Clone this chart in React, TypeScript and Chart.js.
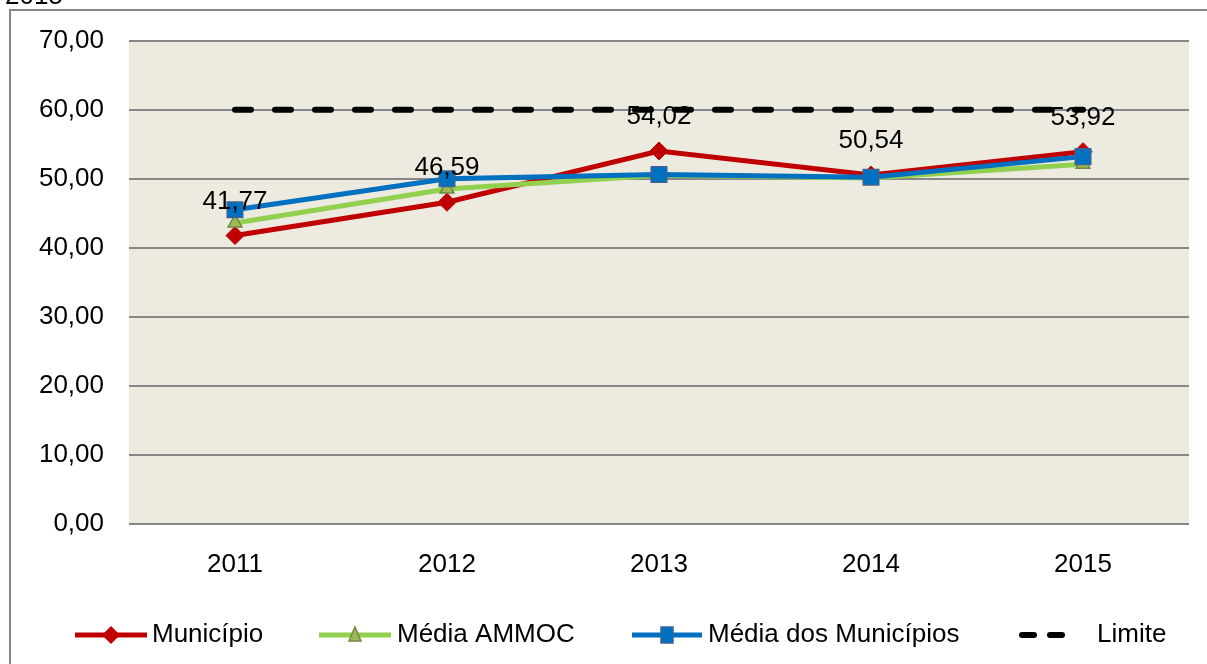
import React, { useEffect, useRef } from 'react';
import { Chart, registerables } from 'chart.js';

Chart.register(...registerables);

const years = ['2011', '2012', '2013', '2014', '2015'];
const municipio = [41.77, 46.59, 54.02, 50.54, 53.92];
const mediaAmmoc = [43.6, 48.5, 50.5, 50.1, 52.1];
const mediaMunicipios = [45.5, 50.0, 50.6, 50.2, 53.2];
const limite = [60, 60, 60, 60, 60];
const titleText = '2015';
const legendLabels = ['Município', 'Média AMMOC', 'Média dos Municípios', 'Limite'];

const FONT = '"Liberation Sans", Arial, sans-serif';
const fmt = (v: number) => v.toFixed(2).replace('.', ',');

const RED = '#C00000';
const GREEN = '#92D050';
const BLUE = '#0070C0';

const decorPlugin = {
  id: 'decor',
  beforeDraw(chart: any) {
    const { ctx, chartArea } = chart;
    ctx.save();
    ctx.fillStyle = '#ffffff';
    ctx.fillRect(0, 0, chart.width, chart.height);
    // outer border
    ctx.strokeStyle = '#878787';
    ctx.lineWidth = 2;
    ctx.strokeRect(10, 10, chart.width + 20, chart.height + 20);
    // cut-off title
    ctx.fillStyle = '#000';
    ctx.font = `26px ${FONT}`;
    ctx.textBaseline = 'alphabetic';
    ctx.textAlign = 'left';
    ctx.fillText(titleText, 5, 4);
    // plot background
    ctx.fillStyle = '#EDEAE0';
    ctx.fillRect(chartArea.left, chartArea.top, chartArea.right - chartArea.left, chartArea.bottom - chartArea.top);
    ctx.restore();
  },
  afterDatasetsDraw(chart: any) {
    const { ctx } = chart;
    const meta = chart.getDatasetMeta(0);
    ctx.save();
    ctx.fillStyle = '#000';
    ctx.font = `26px ${FONT}`;
    ctx.textAlign = 'center';
    ctx.textBaseline = 'alphabetic';
    meta.data.forEach((pt: any, i: number) => {
      ctx.fillText(fmt(municipio[i]), pt.x, pt.y - 27);
    });
    ctx.restore();
  },
  afterDraw(chart: any) {
    const { ctx } = chart;
    const y = 635;
    ctx.save();
    ctx.font = `26px ${FONT}`;
    ctx.textBaseline = 'middle';
    ctx.textAlign = 'left';
    ctx.lineCap = 'butt';
    // Município
    ctx.strokeStyle = RED;
    ctx.lineWidth = 5;
    ctx.beginPath(); ctx.moveTo(75, y); ctx.lineTo(147, y); ctx.stroke();
    ctx.fillStyle = RED;
    ctx.beginPath();
    ctx.moveTo(111, y - 9); ctx.lineTo(120, y); ctx.lineTo(111, y + 9); ctx.lineTo(102, y); ctx.closePath();
    ctx.fill();
    // Média AMMOC
    ctx.strokeStyle = GREEN;
    ctx.beginPath(); ctx.moveTo(319, y); ctx.lineTo(391, y); ctx.stroke();
    ctx.fillStyle = '#9BBB59';
    ctx.strokeStyle = '#71893F';
    ctx.lineWidth = 1.5;
    ctx.beginPath();
    ctx.moveTo(355, y - 8); ctx.lineTo(361, y + 6); ctx.lineTo(349, y + 6); ctx.closePath();
    ctx.fill(); ctx.stroke();
    // Média dos Municípios
    ctx.strokeStyle = BLUE;
    ctx.lineWidth = 5;
    ctx.beginPath(); ctx.moveTo(632, y); ctx.lineTo(702, y); ctx.stroke();
    ctx.fillStyle = BLUE;
    ctx.strokeStyle = '#3C6496';
    ctx.lineWidth = 1.5;
    ctx.fillRect(661, y - 8, 12, 16);
    ctx.strokeRect(661, y - 8, 12, 16);
    // Limite
    ctx.strokeStyle = '#000';
    ctx.lineWidth = 6;
    ctx.lineCap = 'round';
    ctx.beginPath(); ctx.moveTo(1022, y); ctx.lineTo(1034, y); ctx.stroke();
    ctx.beginPath(); ctx.moveTo(1050, y); ctx.lineTo(1062, y); ctx.stroke();
    // texts
    ctx.fillStyle = '#000';
    ctx.fillText(legendLabels[0], 152, y);
    ctx.fillText(legendLabels[1], 397, y);
    ctx.fillText(legendLabels[2], 708, y);
    ctx.fillText(legendLabels[3], 1097, y);
    ctx.restore();
  },
};

export default function App() {
  const ref = useRef<HTMLCanvasElement | null>(null);
  useEffect(() => {
    if (!ref.current) return;
    const chart = new Chart(ref.current, {
      type: 'line',
      data: {
        labels: years,
        datasets: [
          {
            label: legendLabels[0],
            data: municipio,
            borderColor: RED,
            backgroundColor: RED,
            borderWidth: 5,
            pointStyle: 'rectRot',
            pointRadius: 9,
            pointBackgroundColor: RED,
            pointBorderColor: RED,
            pointBorderWidth: 1,
            order: 3,
          },
          {
            label: legendLabels[1],
            data: mediaAmmoc,
            borderColor: GREEN,
            backgroundColor: GREEN,
            borderWidth: 5,
            pointStyle: 'triangle',
            pointRadius: 8,
            pointBackgroundColor: '#9BBB59',
            pointBorderColor: '#71893F',
            pointBorderWidth: 1.5,
            order: 2,
          },
          {
            label: legendLabels[2],
            data: mediaMunicipios,
            borderColor: BLUE,
            backgroundColor: BLUE,
            borderWidth: 5,
            pointStyle: 'rect',
            pointRadius: 11,
            pointBackgroundColor: BLUE,
            pointBorderColor: '#3C6496',
            pointBorderWidth: 1.5,
            order: 1,
          },
          {
            label: legendLabels[3],
            data: limite,
            borderColor: '#000000',
            backgroundColor: '#000000',
            borderWidth: 6,
            borderDash: [16, 24],
            borderCapStyle: 'round',
            pointRadius: 0,
            order: 4,
          },
        ],
      },
      options: {
        responsive: false,
        animation: false,
        devicePixelRatio: 1,
        layout: { padding: { left: 0, top: 39, right: 18, bottom: 0 } },
        plugins: {
          legend: { display: false },
          tooltip: { enabled: false },
          title: { display: false },
        },
        scales: {
          x: {
            offset: true,
            grid: { display: false, drawTicks: false },
            border: { display: false },
            ticks: {
              padding: 25,
              color: '#000',
              font: { family: FONT, size: 26 },
              maxRotation: 0,
            },
            afterFit(scale: any) { scale.height = 140; },
          },
          y: {
            min: 0,
            max: 70,
            grid: { color: '#878787', lineWidth: 2, drawTicks: false },
            border: { display: false },
            ticks: {
              stepSize: 10,
              padding: 25,
              color: '#000',
              font: { family: FONT, size: 26 },
              callback: (v: any) => fmt(Number(v)),
            },
            afterFit(scale: any) { scale.width = 129; },
          },
        },
      },
      plugins: [decorPlugin],
    } as any);
    return () => chart.destroy();
  }, []);
  return (
    <div style={{ position: 'absolute', left: 0, top: 0, width: 1207, height: 664 }}>
      <canvas ref={ref} width={1207} height={664} style={{ display: 'block' }} />
    </div>
  );
}
